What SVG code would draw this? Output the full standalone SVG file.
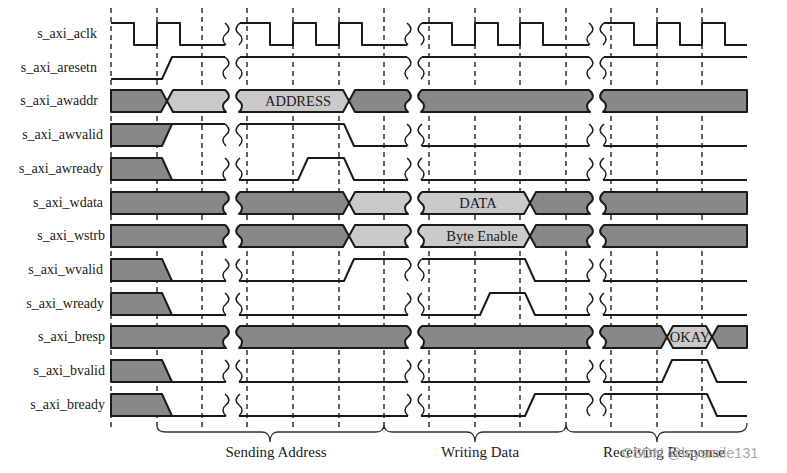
<svg xmlns="http://www.w3.org/2000/svg" width="787" height="473" viewBox="0 0 787 473">
<style>
.lbl{font-family:"Liberation Serif","Times New Roman",serif;font-size:14px;fill:#1a1a1a;text-anchor:end}
.bt{font-family:"Liberation Serif","Times New Roman",serif;font-size:14.5px;fill:#1a1a1a;text-anchor:middle}
.br{font-family:"Liberation Serif","Times New Roman",serif;font-size:15px;fill:#222;text-anchor:middle}
.wm{font-family:"Liberation Sans",Arial,sans-serif;font-size:14.5px;fill:#a8a8a8}
.dash{stroke:#222;stroke-width:1.4;stroke-dasharray:5 4;fill:none}
.sig{stroke:#1a1a1a;stroke-width:2;fill:none;stroke-linejoin:round}
.dk{fill:#888;stroke:#1a1a1a;stroke-width:2;stroke-linejoin:round}
.lt{fill:#cacaca;stroke:#1a1a1a;stroke-width:2;stroke-linejoin:round}
.sq{stroke:#1a1a1a;stroke-width:1.5;fill:none}
.brace{stroke:#333;stroke-width:1.3;fill:none}
</style>
<rect width="787" height="473" fill="#fff"/>
<g id="grid">
<path class="dash" d="M111,8V430M157,8V426M202,8V430M247,8V430M293,8V430M339,8V430M384,8V424M429,8V430M475,8V430M520,8V430M566,8V424M611,8V430M657,8V430M702,8V430"/>
</g>
<g id="labels">
<text class="lbl" x="97" y="38">s_axi_aclk</text>
<text class="lbl" x="97" y="72">s_axi_aresetn</text>
<text class="lbl" x="98" y="105">s_axi_awaddr</text>
<text class="lbl" x="103" y="139">s_axi_awvalid</text>
<text class="lbl" x="103" y="173">s_axi_awready</text>
<text class="lbl" x="103" y="207">s_axi_wdata</text>
<text class="lbl" x="105" y="240">s_axi_wstrb</text>
<text class="lbl" x="103" y="274">s_axi_wvalid</text>
<text class="lbl" x="104" y="308">s_axi_wready</text>
<text class="lbl" x="105" y="341">s_axi_bresp</text>
<text class="lbl" x="105" y="375">s_axi_bvalid</text>
<text class="lbl" x="105" y="409">s_axi_bready</text>
</g>
<g id="s_axi_aclk">
<path class="sig" d="M111,23H134V45H157V23H180V45H225M240,23H270V45H293V23H316V45H339V23H362V45H407M422,23H452V45H475V23H498V45H520V23H543V45H589M604,23H634V45H657V23H680V45H702V23H725V45H747"/>
</g>
<g id="s_axi_aresetn">
<path class="sig" d="M111,79H162L172,57H225M240,57H407M422,57H589M604,57H747"/>
</g>
<g id="s_axi_awaddr">
<path class="dk" d="M111,90H161L167,101L161,112H111Z"/>
<path class="lt" d="M173,90H225c5,4 5,8 1,11c-4,3 -4,7 0,11H173L167,101Z"/>
<path class="lt" d="M240,90H343L349,101L343,112H239c4,-4 4,-8 0,-11c-4,-3 -4,-7 1,-11Z"/>
<path class="dk" d="M355,90H407c5,4 5,8 1,11c-4,3 -4,7 0,11H355L349,101Z"/>
<path class="dk" d="M422,90H589c5,4 5,8 1,11c-4,3 -4,7 0,11H421c4,-4 4,-8 0,-11c-4,-3 -4,-7 1,-11Z"/>
<path class="dk" d="M604,90H747V112H603c4,-4 4,-8 0,-11c-4,-3 -4,-7 1,-11Z"/>
<text class="bt" x="298" y="106">ADDRESS</text>
</g>
<g id="s_axi_awvalid">
<path class="dk" d="M111,124H172L162,146H111Z"/>
<path class="sig" d="M172,124H225M240,124H344L354,146H407M422,146H589M604,146H747"/>
</g>
<g id="s_axi_awready">
<path class="dk" d="M111,158H162L172,180H111Z"/>
<path class="sig" d="M172,180H226M239,180H298L308,158H344L354,180H408M421,180H590M603,180H747"/>
</g>
<g id="s_axi_wdata">
<path class="dk" d="M111,192H225c5,4 5,8 1,11c-4,3 -4,7 0,11H111Z"/>
<path class="dk" d="M240,192H343L349,203L343,214H239c4,-4 4,-8 0,-11c-4,-3 -4,-7 1,-11Z"/>
<path class="lt" d="M355,192H407c5,4 5,8 1,11c-4,3 -4,7 0,11H355L349,203Z"/>
<path class="lt" d="M422,192H524L530,203L524,214H421c4,-4 4,-8 0,-11c-4,-3 -4,-7 1,-11Z"/>
<path class="dk" d="M536,192H589c5,4 5,8 1,11c-4,3 -4,7 0,11H536L530,203Z"/>
<path class="dk" d="M604,192H747V214H603c4,-4 4,-8 0,-11c-4,-3 -4,-7 1,-11Z"/>
<text class="bt" x="478" y="208">DATA</text>
</g>
<g id="s_axi_wstrb">
<path class="dk" d="M111,225H225c5,4 5,8 1,11c-4,3 -4,7 0,11H111Z"/>
<path class="dk" d="M240,225H343L349,236L343,247H239c4,-4 4,-8 0,-11c-4,-3 -4,-7 1,-11Z"/>
<path class="lt" d="M355,225H407c5,4 5,8 1,11c-4,3 -4,7 0,11H355L349,236Z"/>
<path class="lt" d="M422,225H524L530,236L524,247H421c4,-4 4,-8 0,-11c-4,-3 -4,-7 1,-11Z"/>
<path class="dk" d="M536,225H589c5,4 5,8 1,11c-4,3 -4,7 0,11H536L530,236Z"/>
<path class="dk" d="M604,225H747V247H603c4,-4 4,-8 0,-11c-4,-3 -4,-7 1,-11Z"/>
<text class="bt" x="482" y="241">Byte Enable</text>
</g>
<g id="s_axi_wvalid">
<path class="dk" d="M111,259H162L172,281H111Z"/>
<path class="sig" d="M172,281H226M239,281H344L354,259H407M422,259H525L535,281H590M603,281H747"/>
</g>
<g id="s_axi_wready">
<path class="dk" d="M111,293H162L172,315H111Z"/>
<path class="sig" d="M172,315H226M239,315H408M421,315H480L490,293H525L535,315H590M603,315H747"/>
</g>
<g id="s_axi_bresp">
<path class="dk" d="M111,326H225c5,4 5,8 1,11c-4,3 -4,7 0,11H111Z"/>
<path class="dk" d="M240,326H407c5,4 5,8 1,11c-4,3 -4,7 0,11H239c4,-4 4,-8 0,-11c-4,-3 -4,-7 1,-11Z"/>
<path class="dk" d="M422,326H589c5,4 5,8 1,11c-4,3 -4,7 0,11H421c4,-4 4,-8 0,-11c-4,-3 -4,-7 1,-11Z"/>
<path class="dk" d="M604,326H661L667,337L661,348H603c4,-4 4,-8 0,-11c-4,-3 -4,-7 1,-11Z"/>
<path class="lt" d="M673,326H706L712,337L706,348H673L667,337Z"/>
<path class="dk" d="M718,326H747V348H718L712,337Z"/>
<text class="bt" x="690" y="342">OKAY</text>
</g>
<g id="s_axi_bvalid">
<path class="dk" d="M111,360H162L172,382H111Z"/>
<path class="sig" d="M172,382H226M239,382H408M421,382H590M603,382H662L672,360H707L717,382H747"/>
</g>
<g id="s_axi_bready">
<path class="dk" d="M111,394H162L172,416H111Z"/>
<path class="sig" d="M172,416H226M239,416H408M421,416H525L535,394H589M604,394H707L717,416H747"/>
</g>
<g id="breaks">
<path class="sq" d="M225,23c5,4 5,8 1,11c-4,3 -4,7 0,11M240,23c-5,4 -5,8 -1,11c4,3 4,7 0,11M407,23c5,4 5,8 1,11c-4,3 -4,7 0,11M422,23c-5,4 -5,8 -1,11c4,3 4,7 0,11M589,23c5,4 5,8 1,11c-4,3 -4,7 0,11M604,23c-5,4 -5,8 -1,11c4,3 4,7 0,11"/>
<path class="sq" d="M225,57c5,4 5,8 1,11c-4,3 -4,7 0,11M240,57c-5,4 -5,8 -1,11c4,3 4,7 0,11M407,57c5,4 5,8 1,11c-4,3 -4,7 0,11M422,57c-5,4 -5,8 -1,11c4,3 4,7 0,11M589,57c5,4 5,8 1,11c-4,3 -4,7 0,11M604,57c-5,4 -5,8 -1,11c4,3 4,7 0,11"/>
<path class="sq" d="M225,124c5,4 5,8 1,11c-4,3 -4,7 0,11M240,124c-5,4 -5,8 -1,11c4,3 4,7 0,11M407,124c5,4 5,8 1,11c-4,3 -4,7 0,11M422,124c-5,4 -5,8 -1,11c4,3 4,7 0,11M589,124c5,4 5,8 1,11c-4,3 -4,7 0,11M604,124c-5,4 -5,8 -1,11c4,3 4,7 0,11"/>
<path class="sq" d="M225,158c5,4 5,8 1,11c-4,3 -4,7 0,11M240,158c-5,4 -5,8 -1,11c4,3 4,7 0,11M407,158c5,4 5,8 1,11c-4,3 -4,7 0,11M422,158c-5,4 -5,8 -1,11c4,3 4,7 0,11M589,158c5,4 5,8 1,11c-4,3 -4,7 0,11M604,158c-5,4 -5,8 -1,11c4,3 4,7 0,11"/>
<path class="sq" d="M225,259c5,4 5,8 1,11c-4,3 -4,7 0,11M240,259c-5,4 -5,8 -1,11c4,3 4,7 0,11M407,259c5,4 5,8 1,11c-4,3 -4,7 0,11M422,259c-5,4 -5,8 -1,11c4,3 4,7 0,11M589,259c5,4 5,8 1,11c-4,3 -4,7 0,11M604,259c-5,4 -5,8 -1,11c4,3 4,7 0,11"/>
<path class="sq" d="M225,293c5,4 5,8 1,11c-4,3 -4,7 0,11M240,293c-5,4 -5,8 -1,11c4,3 4,7 0,11M407,293c5,4 5,8 1,11c-4,3 -4,7 0,11M422,293c-5,4 -5,8 -1,11c4,3 4,7 0,11M589,293c5,4 5,8 1,11c-4,3 -4,7 0,11M604,293c-5,4 -5,8 -1,11c4,3 4,7 0,11"/>
<path class="sq" d="M225,360c5,4 5,8 1,11c-4,3 -4,7 0,11M240,360c-5,4 -5,8 -1,11c4,3 4,7 0,11M407,360c5,4 5,8 1,11c-4,3 -4,7 0,11M422,360c-5,4 -5,8 -1,11c4,3 4,7 0,11M589,360c5,4 5,8 1,11c-4,3 -4,7 0,11M604,360c-5,4 -5,8 -1,11c4,3 4,7 0,11"/>
<path class="sq" d="M225,394c5,4 5,8 1,11c-4,3 -4,7 0,11M240,394c-5,4 -5,8 -1,11c4,3 4,7 0,11M407,394c5,4 5,8 1,11c-4,3 -4,7 0,11M422,394c-5,4 -5,8 -1,11c4,3 4,7 0,11M589,394c5,4 5,8 1,11c-4,3 -4,7 0,11M604,394c-5,4 -5,8 -1,11c4,3 4,7 0,11"/>
</g>
<g id="phases">
<path class="brace" d="M157,426C157,430 160,432 166,432H262C267,432 270,436 270,442C270,436 273,432 278,432H376C381,432 384,430 384,424C384,430 387,432 392,432H467C472,432 475,436 475,442C475,436 478,432 483,432H558C563,432 566,430 566,424C566,430 569,432 574,432H649C654,432 657,436 657,442C657,436 660,432 665,432H738C744,432 747,429 747,423"/>
<text class="br" x="276" y="457">Sending Address</text>
<text class="br" x="480" y="457">Writing Data</text>
<text class="br" x="664" y="457">Receiving Response</text>
</g>
<text class="wm" x="622" y="458">CSDN @leysmile131</text>
</svg>
